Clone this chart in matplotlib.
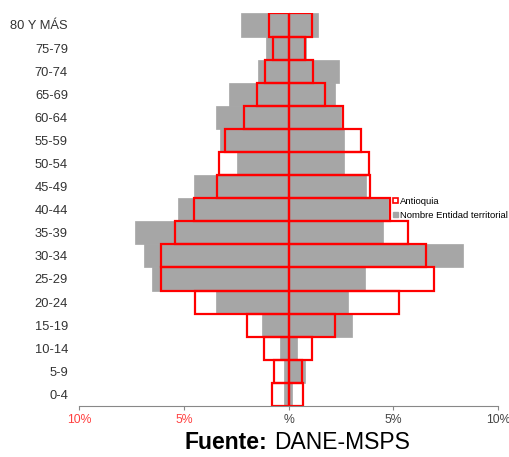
import matplotlib.pyplot as plt
from matplotlib.patches import Patch
import numpy as np

plt.rcParams["font.family"] = ["Liberation Sans", "DejaVu Sans"]

ages = ["0-4", "5-9", "10-14", "15-19", "20-24", "25-29", "30-34", "35-39",
        "40-44", "45-49", "50-54", "55-59", "60-64", "65-69", "70-74",
        "75-79", "80 Y MÁS"]

# percentages, bottom (0-4) to top (80+)
terr_left = [0.24, 0.24, 0.43, 1.26, 3.46, 6.51, 6.89, 7.32, 5.30, 4.50,
             2.47, 3.27, 3.46, 2.87, 1.45, 1.07, 2.26]
terr_right = [0.18, 0.78, 0.40, 3.03, 2.82, 3.64, 8.31, 4.48, 4.75, 3.67,
              2.63, 2.63, 2.50, 2.20, 2.41, 0.85, 1.40]
ant_left = [0.81, 0.68, 1.18, 1.98, 4.47, 6.08, 6.08, 5.42, 4.50, 3.43,
            3.33, 3.03, 2.15, 1.52, 1.11, 0.73, 0.96]
ant_right = [0.68, 0.64, 1.10, 2.22, 5.26, 6.94, 6.57, 5.71, 4.85, 3.89,
             3.84, 3.44, 2.57, 1.71, 1.18, 0.80, 1.13]

xticks = [-10, -5, 0, 5, 10]
xlabels = ["10%", "5%", "%", "5%", "10%"]
xlabel_colors = ["#ff4040", "#ff4040", "#444444", "#444444", "#444444"]

gray = "#a6a6a6"
red = "#ff0000"

fig = plt.figure(figsize=(5.1, 4.57), dpi=100)
ax = fig.add_axes([0.155, 0.1116, 0.822, 0.859])

y = np.arange(len(ages))
ax.barh(y, -np.array(terr_left), height=1.0, color=gray, edgecolor=gray, linewidth=0.5)
ax.barh(y, terr_right, height=1.0, color=gray, edgecolor=gray, linewidth=0.5)
ax.barh(y, -np.array(ant_left), height=1.0, facecolor="none", edgecolor=red, linewidth=1.6)
ax.barh(y, ant_right, height=1.0, facecolor="none", edgecolor=red, linewidth=1.6)

ax.set_xlim(-10, 10)
ax.set_ylim(-0.5, len(ages) - 0.5)

ax.set_yticks(y)
ax.set_yticklabels(ages, fontsize=9.3, color="#333333")
ax.tick_params(axis="y", length=0, pad=8)

ax.set_xticks(xticks)
ax.set_xticklabels(xlabels, fontsize=8.8)
for lbl, c in zip(ax.get_xticklabels(), xlabel_colors):
    lbl.set_color(c)
ax.tick_params(axis="x", length=3, width=0.8, color="#888888", pad=2.5)

for s in ["top", "right", "left"]:
    ax.spines[s].set_visible(False)
ax.spines["bottom"].set_color("#888888")
ax.spines["bottom"].set_linewidth(0.8)

# center axis with small ticks
center = ax.secondary_yaxis(0.5)
center.spines["left"].set_color("#7a0000")
center.spines["left"].set_linewidth(1.4)
center.set_yticks(y)
center.set_yticklabels([])
center.tick_params(direction="in", length=3, width=0.7, color="#7a0000")

handles = [Patch(facecolor="white", edgecolor=red, linewidth=1.2),
           Patch(facecolor=gray, edgecolor=gray)]
ax.legend(handles, ["Antioquia", "Nombre Entidad territorial"],
          loc="center left", bbox_to_anchor=(0.738, 0.503), fontsize=6.8,
          frameon=False, handlelength=0.5, handleheight=0.5,
          handletextpad=0.2, labelspacing=0.55, borderpad=0)

fig.text(0.524, 0.031, "Fuente:", fontsize=16.5, fontweight="bold",
         ha="right", va="center", color="black")
fig.text(0.537, 0.031, "DANE-MSPS", fontsize=16.5, ha="left", va="center",
         color="black")

fig.savefig("out.png", dpi=100)
